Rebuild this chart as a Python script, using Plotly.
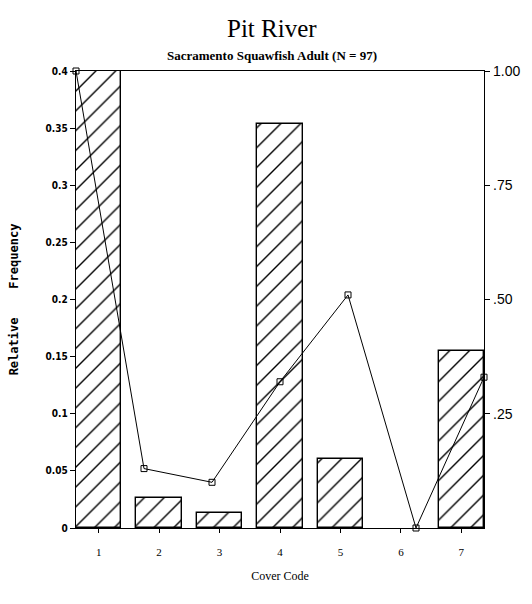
import plotly.graph_objects as go

# Cover codes on the x axis
cover_codes = [1, 2, 3, 4, 5, 6, 7]
code_labels = ["1", "2", "3", "4", "5", "6", "7"]

# Relative frequency of adult fish by cover code (left axis, bars)
rel_freq = [0.40, 0.026, 0.013, 0.354, 0.060, 0.0, 0.155]

# Second series plotted against the right axis (line with square markers)
line_vals = [1.00, 0.13, 0.10, 0.32, 0.51, 0.0, 0.33]

left_ticks = [0, 0.05, 0.1, 0.15, 0.2, 0.25, 0.3, 0.35, 0.4]
left_tick_text = ["0", "0.05", "0.1", "0.15", "0.2", "0.25", "0.3", "0.35", "0.4"]
right_ticks = [0.25, 0.50, 0.75, 1.00]
right_tick_text = [".25", ".50", ".75", "1.00"]

# empty categories get no outline so the baseline stays thin
bar_edge = [1.4 if v > 0 else 0 for v in rel_freq]

fig = go.Figure()

fig.add_trace(go.Bar(
    x=cover_codes,
    y=rel_freq,
    width=0.75,
    marker=dict(
        color="white",
        line=dict(color="black", width=bar_edge),
        pattern=dict(shape="/", fgcolor="black", bgcolor="white",
                     fgopacity=1, size=14, solidity=0.1),
    ),
    xaxis="x", yaxis="y",
    showlegend=False,
))

fig.add_trace(go.Scatter(
    x=cover_codes,
    y=line_vals,
    mode="lines+markers",
    line=dict(color="black", width=1),
    marker=dict(symbol="square-open", size=6, color="black",
                line=dict(width=1)),
    xaxis="x2", yaxis="y2",
    cliponaxis=False,
    showlegend=False,
))

small_font = dict(family="Liberation Sans Narrow, DejaVu Sans Condensed, Liberation Sans",
                  size=10, color="black", weight="bold")

fig.update_layout(
    width=532, height=604,
    margin=dict(l=76, r=39, t=71, b=76),
    paper_bgcolor="white",
    plot_bgcolor="white",
    bargap=0,
    xaxis=dict(
        range=[0.625, 7.375],
        tickvals=cover_codes, ticktext=code_labels,
        ticks="outside", ticklen=4, tickcolor="black",
        ticklabelstandoff=10,
        showline=True, linecolor="black", linewidth=1.4, mirror=True,
        showgrid=False, zeroline=False,
        tickfont=dict(family="Liberation Serif", size=11, color="black"),
        title=dict(text="Cover Code", standoff=14,
                   font=dict(family="Liberation Serif", size=12, color="black")),
    ),
    xaxis2=dict(
        range=[1, 7], overlaying="x", anchor="y2",
        visible=False, showgrid=False, zeroline=False,
    ),
    yaxis=dict(
        range=[0, 0.4],
        tickvals=left_ticks, ticktext=left_tick_text,
        ticks="outside", ticklen=5, tickcolor="black",
        showline=True, linecolor="black", linewidth=1.4, mirror=True,
        showgrid=False, zeroline=False,
        tickfont=small_font,
        title=dict(text="<b>Relative    Frequency</b>", standoff=24,
                   font=dict(family="DejaVu Sans Mono", size=12, color="black")),
    ),
    yaxis2=dict(
        range=[0, 1], overlaying="y", side="right", anchor="x",
        tickvals=right_ticks, ticktext=right_tick_text,
        ticks="outside", ticklen=5, tickcolor="black",
        showline=True, linecolor="black", linewidth=1.4,
        showgrid=False, zeroline=False,
        tickfont=dict(family="Liberation Sans", size=14, color="black"),
    ),
)

fig.add_annotation(
    text="Pit River", xref="paper", yref="paper",
    x=0.48, y=1.0, yanchor="middle", yshift=43, showarrow=False,
    font=dict(family="Liberation Serif", size=25, color="black"),
)
fig.add_annotation(
    text="<b>Sacramento Squawfish Adult (N = 97)</b>", xref="paper", yref="paper",
    x=0.48, y=1.0, yanchor="middle", yshift=16, showarrow=False,
    font=dict(family="Liberation Serif", size=13, color="black"),
)

fig.write_html("out.html")
